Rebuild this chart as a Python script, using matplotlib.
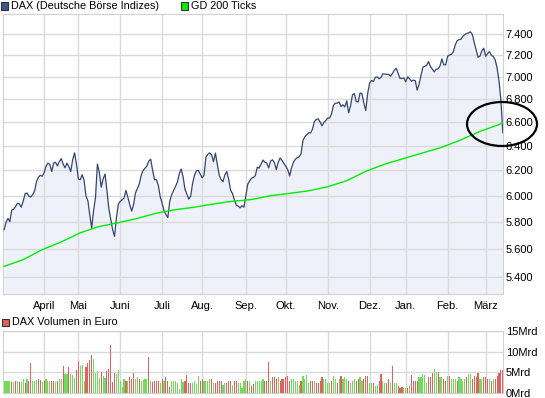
import matplotlib
matplotlib.use("Agg")
import matplotlib.pyplot as plt
from matplotlib.patches import Ellipse, Rectangle
from matplotlib.ticker import FixedLocator, NullLocator, FuncFormatter
import numpy as np
import pandas as pd

plt.rcParams["font.family"] = ["Liberation Sans", "DejaVu Sans"]

# daily DAX closes, one per trading session (Mar 2006 - 14 Mar 2007)
DAX = [
    5740, 5795, 5825, 5800, 5888, 5895, 5915, 5940, 5935, 5910,
    5955, 6015, 6020, 5995, 5988, 6008, 6035, 6110, 6145, 6160,
    6152, 6180, 6233, 6258, 6248, 6190, 6258, 6265, 6235, 6270,
    6295, 6250, 6220, 6258, 6230, 6190, 6285, 6342, 6250, 6130,
    6125, 6165, 6120, 5995, 5960, 5850, 5750, 5885, 5985, 6250,
    6185, 6065, 6130, 6170, 6040, 5900, 5820, 5740, 5690, 5830,
    5935, 5955, 5968, 5980, 6040, 5987, 5930, 5880, 5930, 6020,
    6055, 6090, 6160, 6198, 6217, 6235, 6275, 6290, 6200, 6125,
    6125, 6080, 5990, 5941, 5884, 5855, 5830, 5955, 6005, 6040,
    6070, 6105, 6170, 6210, 6150, 6050, 6010, 5972, 5995, 6095,
    6160, 6195, 6200, 6170, 6140, 6160, 6305, 6330, 6342, 6325,
    6270, 6340, 6250, 6160, 6125, 6110, 6165, 6190, 6125, 6042,
    6015, 5965, 5925, 5918, 5905, 5922, 5910, 6000, 6090, 6115,
    6137, 6143, 6158, 6225, 6218, 6250, 6283, 6265, 6258, 6220,
    6275, 6285, 6262, 6205, 6265, 6300, 6280, 6255, 6232, 6205,
    6155, 6220, 6265, 6290, 6302, 6310, 6335, 6445, 6477, 6492,
    6510, 6508, 6540, 6605, 6623, 6628, 6602, 6568, 6598, 6614,
    6635, 6635, 6672, 6745, 6765, 6765, 6775, 6735, 6750, 6732,
    6785, 6680, 6740, 6837, 6850, 6778, 6775, 6855, 6848, 6765,
    6700, 6850, 6942, 6967, 6958, 6995, 7000, 6982, 6995, 7028,
    7025, 7022, 7022, 7006, 7030, 7062, 7078, 7032, 6985, 6985,
    6990, 6955, 7000, 6983, 6960, 6970, 6965, 6880, 6932, 7012,
    7088, 7096, 7107, 7140, 7094, 7070, 7045, 7070, 7072, 7100,
    7165, 7110, 7110, 7190, 7201, 7207, 7230, 7296, 7335, 7347,
    7350, 7377, 7395, 7405, 7412, 7421, 7395, 7318, 7250, 7180,
    7190, 7241, 7265, 7190, 7214, 7233, 7198, 7188, 7155, 7080,
    6965, 6790, 6510,
]

# 200-day average, read every 10th session plus the last one
GD_STEP = 10
GD200 = [5473, 5521, 5593, 5649, 5717, 5764, 5792, 5825, 5864, 5891,
         5910, 5935, 5956, 5969, 5999, 6017, 6037, 6069, 6117, 6192,
         6250, 6296, 6342, 6388, 6450, 6521, 6579, 6596]

# turnover in Mrd EUR per session
VOLUME = [
    2.8, 3.0, 3.0, 2.9, 2.7, 2.7, 2.8, 2.9, 2.7, 2.6, 3.3,
    2.4, 3.5, 2.95, 7.3, 2.8, 3.0, 3.2, 3.5, 3.2, 2.6,
    2.95, 3.5, 2.8, 2.95, 2.8, 3.0, 2.6, 2.95, 3.5, 3.3,
    6.6, 4.5, 4.7, 6.3, 4.5, 4.3, 3.6, 5.6, 7.8, 6.6,
    6.8, 3.0, 6.3, 7.3, 8.1, 9.1, 8.3, 4.9, 5.3, 3.6,
    5.05, 4.0, 3.6, 5.3, 5.8, 11.6, 2.6, 4.9, 4.6, 5.6,
    3.0, 1.4, 3.3, 2.8, 2.8, 3.8, 3.3, 4.8, 3.3, 3.8,
    3.5, 2.9, 3.1, 3.3, 3.3, 8.6, 2.8, 2.6, 2.8, 3.0,
    2.8, 2.4, 3.5, 2.95, 3.8, 2.8, 1.5, 3.0, 3.0, 3.0,
    2.3, 1.0, 3.3, 2.6, 3.0, 4.3, 2.3, 2.5, 2.4, 3.0,
    2.2, 4.0, 2.8, 3.3, 3.0, 3.0, 2.8, 3.3, 3.5, 2.4,
    2.5, 3.0, 3.0, 2.8, 1.9, 2.5, 2.3, 3.0, 3.0, 1.9,
    2.8, 3.0, 2.4, 2.5, 1.3, 2.8, 3.5, 3.0,
    2.8, 1.8, 2.1, 2.8, 2.8, 3.0, 2.8, 3.3, 2.8, 3.0,
    7.6, 2.8, 3.8, 3.8, 3.3, 3.8, 2.8, 3.5, 3.5, 3.8,
    4.0, 2.8, 3.3, 3.5, 3.0, 3.0, 2.0, 3.0, 4.0, 3.3,
    4.3, 2.5, 3.0, 2.8, 3.0, 2.3, 2.3, 3.0, 3.8, 3.5,
    3.3, 2.5, 2.5, 2.8, 4.0, 3.5, 2.5, 3.3, 4.0, 3.5,
    3.8, 3.5, 3.0, 2.5, 3.0, 3.5, 3.0, 3.5, 3.8, 2.8,
    3.3, 4.0, 4.0, 2.4, 2.5, 2.3, 1.8, 2.0, 3.0, 4.5,
    3.0, 2.3, 2.3, 3.3, 2.5, 6.6, 2.5, 2.3, 1.8, 1.3,
    1.5, 1.3, 1.3, 1.3, 2.0, 4.3, 3.0, 3.0, 2.8, 3.8,
    3.8, 4.5, 4.3, 2.5, 3.8, 3.8, 4.8, 5.8, 5.05, 5.05,
    3.8, 3.8, 3.3, 3.0, 4.0, 4.0, 3.5, 3.3, 3.3, 2.8,
    3.8, 3.5, 2.8, 3.5, 3.8, 4.5, 4.5, 3.3, 4.0, 3.8,
    4.8, 3.3, 3.5, 3.8, 3.8, 3.3, 3.3, 2.8, 3.5, 3.5,
    4.0, 4.8, 5.6, 5.6,
]
# r = down day, g = up day
VOL_DIR = (
    "ggggrgrgrgg rgrrgggrrg rgggrrgrgg rggrgggrrg ggrrrrgggg rggrrrrrgg "
    "gggrgrrrgg rggggrgrrr rgrgrrrggg ggggrrrrgg ggrrggggrg rrrrggrrrg rrgggggr "
    "grrgggggrr rgrrrgrrrr rrgggggrgg ggrrgrrrrg gggrggrgrg ggrgggrrgg "
    "rrrggrggrr ggrrgrggrr rggrgrrrrg ggggrrrggr ggrrgrgggr ggggrggrrr "
    "rggrrrgrgr rrrr"
).replace(" ", "")

HOLIDAYS = ["2006-04-14", "2006-04-17", "2006-05-01",
            "2006-12-25", "2006-12-26", "2007-01-01"]
LAST_DAY = "2007-03-14"
MONTH_NAMES = {4: "April", 5: "Mai", 6: "Juni", 7: "Juli", 8: "Aug.", 9: "Sep.",
               10: "Okt.", 11: "Nov.", 12: "Dez.", 1: "Jan.", 2: "Feb.", 3: "März"}
PRICE_TICKS = [5400, 5600, 5800, 6000, 6200, 6400, 6600, 6800, 7000, 7200, 7400]
VOL_TICKS = [0, 5, 10, 15]

C_LINE = "#34466f"
C_FILL = "#eef1f9"
C_GD = "#00ee00"
C_RED = "#e0615f"
C_GREEN = "#6fdc5c"
C_GRID = "#dadada"

n = len(DAX)
assert len(VOLUME) == n and len(VOL_DIR) == n
sessions = pd.bdate_range("2006-01-02", LAST_DAY, freq="C", holidays=HOLIDAYS)[-n:]
x = np.arange(n)
gd_x = list(range(0, n, GD_STEP)) + [n - 1]
months = np.asarray(sessions.month)
starts = np.flatnonzero(np.diff(months) != 0) + 1
month_lab = [MONTH_NAMES[m] for m in months[starts]]

W, H = 545, 398
fig = plt.figure(figsize=(W / 100, H / 100), dpi=100)


def px_axes(left, top, right, bottom):
    return fig.add_axes([left / W, 1 - bottom / H, (right - left) / W, (bottom - top) / H])


def style(a):
    a.set_xlim(-0.6, n - 0.9)
    a.set_xticks(starts)
    a.grid(True, color=C_GRID, lw=1)
    a.tick_params(length=0, labelsize=8, colors="black")
    a.yaxis.tick_right()
    for s in a.spines.values():
        s.set_color("#d0d0d0")


ax = px_axes(3, 14, 503, 294)
style(ax)
ax.set_yscale("log")
ax.set_ylim(5280, 7595)
ax.fill_between(x, DAX, 5280, color=C_FILL, lw=0, zorder=1)
ax.plot(x, DAX, color=C_LINE, lw=0.9, zorder=3)
ax.plot(gd_x, GD200, color=C_GD, lw=1.0, zorder=3)
ax.yaxis.set_major_locator(FixedLocator(PRICE_TICKS))
ax.yaxis.set_minor_locator(NullLocator())
ax.yaxis.set_major_formatter(FuncFormatter(lambda v, p: f"{v:,.0f}".replace(",", ".")))
ax.set_xticklabels(month_lab)
ax.tick_params(axis="x", pad=5)
ax.tick_params(axis="y", pad=2)

axv = px_axes(3, 331, 503, 393)
style(axv)
bar_colors = [C_RED if c == "r" else C_GREEN for c in VOL_DIR]
axv.bar(x, VOLUME, width=0.6, color=bar_colors, lw=0, zorder=3, antialiased=False)
axv.set_ylim(0, 15)
axv.set_yticks(VOL_TICKS)
axv.set_yticklabels([f"{v}Mrd" for v in VOL_TICKS])
axv.set_xticklabels([])
axv.tick_params(axis="y", pad=2)


def legend_item(xp, yp, color, label):
    fig.patches.append(Rectangle((xp / W, 1 - (yp + 3.5) / H), 7 / W, 7 / H,
                                 transform=fig.transFigure, fc=color, ec="#333333", lw=0.8))
    fig.text((xp + 10) / W, 1 - yp / H, label, va="center", ha="left", fontsize=7.8)


legend_item(1, 6, "#3d5688", "DAX (Deutsche Börse Indizes)")
legend_item(181, 6, C_GD, "GD 200 Ticks")
legend_item(2, 322, C_RED, "DAX Volumen in Euro")

# hand-drawn marker around the latest quote
fig.patches.append(Ellipse((502 / W, 1 - 124 / H), 70 / W, 44 / H, transform=fig.transFigure,
                           fill=False, ec="black", lw=1.6))

fig.savefig("out.png", dpi=100)
